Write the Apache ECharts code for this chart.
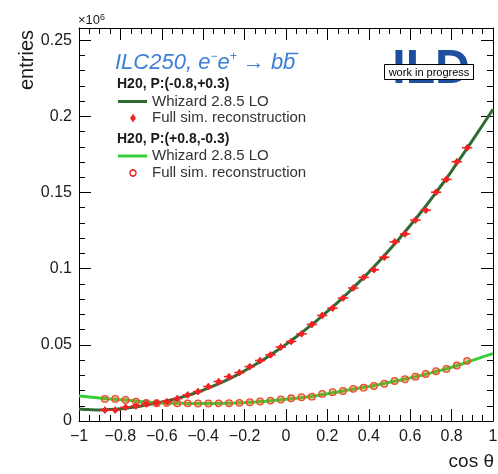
<!DOCTYPE html>
<html>
<head>
<meta charset="utf-8">
<script src="https://cdn.jsdelivr.net/npm/echarts@6/dist/echarts.min.js"></script>
<style>
    html, body { margin: 0; padding: 0; background: #fff; }
    #chart { width: 498px; height: 474px; }
</style>
</head>
<body>
<div id="chart"></div>
<script>
    // bin centres of the reconstructed histograms (cos theta), bin width 0.05
    var binCentres = [-0.875, -0.825, -0.775, -0.725, -0.675, -0.625, -0.575, -0.525, -0.475, -0.425,
        -0.375, -0.325, -0.275, -0.225, -0.175, -0.125, -0.075, -0.025, 0.025, 0.075,
        0.125, 0.175, 0.225, 0.275, 0.325, 0.375, 0.425, 0.475, 0.525, 0.575,
        0.625, 0.675, 0.725, 0.775, 0.825, 0.875]
    // full sim. reconstruction, entries in units of 10^6
    var lrReco = [0.0072, 0.0072, 0.0090, 0.0099, 0.0112, 0.0120, 0.0127, 0.0147, 0.0171, 0.0193,
        0.0226, 0.0259, 0.0291, 0.0318, 0.0357, 0.0397, 0.0434, 0.0485, 0.0522, 0.0572,
        0.0634, 0.0693, 0.0741, 0.0807, 0.0873, 0.0943, 0.0993, 0.1075, 0.1176, 0.1228,
        0.1319, 0.1384, 0.1502, 0.1586, 0.1702, 0.1794]
    var rlReco = [0.0145, 0.0145, 0.0138, 0.0127, 0.0118, 0.0117, 0.0118, 0.0116, 0.0116, 0.0115,
        0.0115, 0.0116, 0.0117, 0.0119, 0.0123, 0.0128, 0.0134, 0.0141, 0.0149, 0.0156,
        0.0160, 0.0178, 0.0189, 0.0197, 0.0211, 0.0219, 0.0230, 0.0245, 0.0263, 0.0274,
        0.0291, 0.0309, 0.0327, 0.0342, 0.0364, 0.0395]

    // Whizard 2.8.5 LO curves
    var curveCos = [-1, -0.95, -0.9, -0.85, -0.8, -0.75, -0.7, -0.65, -0.6, -0.55,
        -0.5, -0.45, -0.4, -0.35, -0.3, -0.25, -0.2, -0.15, -0.1, -0.05,
        0, 0.05, 0.1, 0.15, 0.2, 0.25, 0.3, 0.35, 0.4, 0.45,
        0.5, 0.55, 0.6, 0.65, 0.7, 0.75, 0.8, 0.85, 0.9, 0.95, 1]
    var lrWhizard = [0.0078, 0.0075, 0.0073, 0.0075, 0.0080, 0.0089, 0.0099, 0.0111, 0.0125, 0.0140,
        0.0158, 0.0179, 0.0203, 0.0230, 0.0260, 0.0293, 0.0330, 0.0369, 0.0411, 0.0456,
        0.0503, 0.0553, 0.0606, 0.0661, 0.0719, 0.0779, 0.0842, 0.0908, 0.0977, 0.1049,
        0.1124, 0.1202, 0.1283, 0.1367, 0.1455, 0.1546, 0.1641, 0.1740, 0.1841, 0.1943, 0.2046]
    var rlWhizard = [0.0164, 0.0158, 0.0151, 0.0145, 0.0140, 0.0134, 0.0127, 0.0122, 0.0118, 0.0117,
        0.0116, 0.0115, 0.0115, 0.0115, 0.0116, 0.0118, 0.0121, 0.0125, 0.0130, 0.0136,
        0.0143, 0.0150, 0.0158, 0.0168, 0.0179, 0.0191, 0.0203, 0.0215, 0.0227, 0.0240,
        0.0254, 0.0268, 0.0283, 0.0299, 0.0316, 0.0334, 0.0353, 0.0374, 0.0398, 0.0421, 0.0442]

    var binHalfWidth = 0.025
    var FONT = '"Liberation Sans", Arial, Helvetica, sans-serif'
    var DARK_GREEN = '#2f6b33'
    var LIGHT_GREEN = '#37cf37'
    var RED = '#f02222'
    var TITLE_BLUE = '#3b7fd6'

    function pairs(xs, ys) {
        return xs.map(function (x, i) { return [x, ys[i]] })
    }

    function frameAxis(isX, pos, showLabel) {
        return {
            type: 'value',
            position: pos,
            min: isX ? -1 : 0,
            max: isX ? 1 : 0.258,
            interval: isX ? 0.2 : 0.05,
            axisLine: { show: true, onZero: false, lineStyle: { color: '#000', width: 1 } },
            axisTick: { show: true, inside: true, length: 12, lineStyle: { color: '#000', width: 1 } },
            minorTick: { show: true, splitNumber: isX ? 4 : 5, length: 6, lineStyle: { color: '#000', width: 1 } },
            splitLine: { show: false },
            minorSplitLine: { show: false },
            axisLabel: {
                show: showLabel,
                color: '#1a1a1a',
                fontFamily: FONT,
                fontSize: 16,
                margin: isX ? 8 : 7,
                showMaxLabel: isX,
                formatter: function (v) {
                    var r = isX ? Math.round(v * 10) / 10 : Math.round(v * 100) / 100
                    return String(r).replace('-', '\u2212')
                }
            }
        }
    }

    // marker for the P(-0.8,+0.3) reconstruction: filled dot with bin-width bar
    function dotMarker(params, api) {
        var x = api.value(0), y = api.value(1)
        var p = api.coord([x, y])
        var l = api.coord([x - binHalfWidth, y])
        var r = api.coord([x + binHalfWidth, y])
        return {
            type: 'group',
            children: [
                { type: 'line', shape: { x1: l[0], y1: l[1], x2: r[0], y2: r[1] }, style: { stroke: RED, lineWidth: 1.6 } },
                { type: 'line', shape: { x1: p[0], y1: p[1] - 3.5, x2: p[0], y2: p[1] + 3.5 }, style: { stroke: RED, lineWidth: 1.6 } },
                { type: 'circle', shape: { cx: p[0], cy: p[1], r: 2.6 }, style: { fill: RED } }
            ]
        }
    }

    // marker for the P(+0.8,-0.3) reconstruction: open circle
    function circleMarker(params, api) {
        var p = api.coord([api.value(0), api.value(1)])
        return {
            type: 'circle',
            shape: { cx: p[0], cy: p[1], r: 3.3 },
            style: { fill: 'rgba(170,140,40,0.45)', stroke: '#ee4a2a', lineWidth: 1.3 }
        }
    }

    // where the anti-b bar goes: measure the title pieces
    var titleX = 115, titleY = 51, titleSize = 22, supSize = 12
    var ctx = document.createElement('canvas').getContext('2d')
    function textWidth(str, size) {
        ctx.font = 'italic ' + size + 'px ' + FONT
        return ctx.measureText(str).width
    }
    var barStart = titleX + textWidth('ILC250, e', titleSize) + textWidth('\u2212', supSize) +
        textWidth('e', titleSize) + textWidth('+', supSize) + textWidth(' \u2192 b', titleSize)
    var barLen = textWidth('b', titleSize)

    var legendX = 117
    var graphics = [
        // y axis title
        { type: 'text', x: 27, y: 60, rotation: Math.PI / 2,
          style: { text: 'entries', font: '20px ' + FONT, fill: '#1a1a1a', align: 'center', verticalAlign: 'middle' } },
        // x axis title
        { type: 'text', x: 494, y: 462,
          style: { text: 'cos \u03b8', font: '19px ' + FONT, fill: '#1a1a1a', align: 'right', verticalAlign: 'middle' } },
        // exponent
        { type: 'text', x: 78, y: 13,
          style: { text: '{a|\u00d710}{b|6}', fill: '#1a1a1a', rich: {
              a: { fontFamily: FONT, fontSize: 13, fill: '#1a1a1a', lineHeight: 14 },
              b: { fontFamily: FONT, fontSize: 9, fill: '#1a1a1a', verticalAlign: 'top', lineHeight: 14 } } } },
        // process title
        { type: 'text', x: titleX, y: titleY,
          style: { text: '{t|ILC250, e}{s|\u2212}{t|e}{s|+}{t| \u2192 bb}', rich: {
              t: { fontFamily: FONT, fontStyle: 'italic', fontSize: titleSize, fill: TITLE_BLUE, lineHeight: 24 },
              s: { fontFamily: FONT, fontStyle: 'italic', fontSize: supSize, fill: TITLE_BLUE, verticalAlign: 'top', lineHeight: 24 } } } },
        { type: 'line', shape: { x1: barStart + 3, y1: titleY + 2.5, x2: barStart + barLen + 3, y2: titleY + 2.5 },
          style: { stroke: TITLE_BLUE, lineWidth: 1.5 } },
        // ILD logo with work-in-progress box
        { type: 'text', x: 431, y: 70,
          style: { text: 'ILD', font: 'bold 48px ' + FONT, fill: '#1d4f9e', align: 'center', verticalAlign: 'middle' } },
        { type: 'rect', shape: { x: 384.5, y: 64.5, width: 89, height: 15 },
          style: { fill: '#fff', stroke: '#000', lineWidth: 1 } },
        { type: 'text', x: 429, y: 72.5,
          style: { text: 'work in progress', font: '11px ' + FONT, fill: '#000', align: 'center', verticalAlign: 'middle' } },
        // legend, first polarisation
        { type: 'text', x: legendX, y: 84,
          style: { text: 'H20, P:(-0.8,+0.3)', font: 'bold 14px ' + FONT, fill: '#1a1a1a', verticalAlign: 'middle' } },
        { type: 'line', shape: { x1: 118, y1: 101.5, x2: 147, y2: 101.5 }, style: { stroke: DARK_GREEN, lineWidth: 3 } },
        { type: 'text', x: 152, y: 101.5,
          style: { text: 'Whizard 2.8.5 LO', font: '15px ' + FONT, fill: '#333', verticalAlign: 'middle' } },
        { type: 'line', shape: { x1: 133, y1: 114, x2: 133, y2: 122 }, style: { stroke: RED, lineWidth: 1.5 } },
        { type: 'circle', shape: { cx: 133, cy: 118, r: 2.6 }, style: { fill: RED } },
        { type: 'text', x: 152, y: 118,
          style: { text: 'Full sim. reconstruction', font: '15px ' + FONT, fill: '#333', verticalAlign: 'middle' } },
        // legend, second polarisation
        { type: 'text', x: legendX, y: 139,
          style: { text: 'H20, P:(+0.8,-0.3)', font: 'bold 14px ' + FONT, fill: '#1a1a1a', verticalAlign: 'middle' } },
        { type: 'line', shape: { x1: 118, y1: 156, x2: 147, y2: 156 }, style: { stroke: LIGHT_GREEN, lineWidth: 3 } },
        { type: 'text', x: 152, y: 156,
          style: { text: 'Whizard 2.8.5 LO', font: '15px ' + FONT, fill: '#333', verticalAlign: 'middle' } },
        { type: 'line', shape: { x1: 133, y1: 169, x2: 133, y2: 177 }, style: { stroke: RED, lineWidth: 1.5 } },
        { type: 'circle', shape: { cx: 133, cy: 173, r: 3 }, style: { fill: '#fff', stroke: RED, lineWidth: 1.3 } },
        { type: 'text', x: 152, y: 173,
          style: { text: 'Full sim. reconstruction', font: '15px ' + FONT, fill: '#333', verticalAlign: 'middle' } }
    ]

    var myChart = echarts.init(document.getElementById('chart'), null, { renderer: 'canvas' })
    myChart.setOption({
        animation: false,
        backgroundColor: '#fff',
        grid: { left: 79, right: 5, top: 28, bottom: 53, containLabel: false, outerBoundsMode: 'none' },
        xAxis: [frameAxis(true, 'bottom', true), frameAxis(true, 'top', false)],
        yAxis: [frameAxis(false, 'left', true), frameAxis(false, 'right', false)],
        graphic: graphics,
        series: [
            {
                name: 'Whizard P(-0.8,+0.3)', type: 'line', smooth: 0.3, showSymbol: false, z: 2,
                lineStyle: { color: DARK_GREEN, width: 3 },
                data: pairs(curveCos, lrWhizard)
            },
            {
                name: 'Whizard P(+0.8,-0.3)', type: 'line', smooth: 0.3, showSymbol: false, z: 2,
                lineStyle: { color: LIGHT_GREEN, width: 3 },
                data: pairs(curveCos, rlWhizard)
            },
            {
                name: 'Reco P(+0.8,-0.3)', type: 'custom', z: 3, clip: true,
                renderItem: circleMarker,
                data: pairs(binCentres, rlReco)
            },
            {
                name: 'Reco P(-0.8,+0.3)', type: 'custom', z: 4, clip: true,
                renderItem: dotMarker,
                data: pairs(binCentres, lrReco)
            }
        ]
    })
</script>
</body>
</html>
